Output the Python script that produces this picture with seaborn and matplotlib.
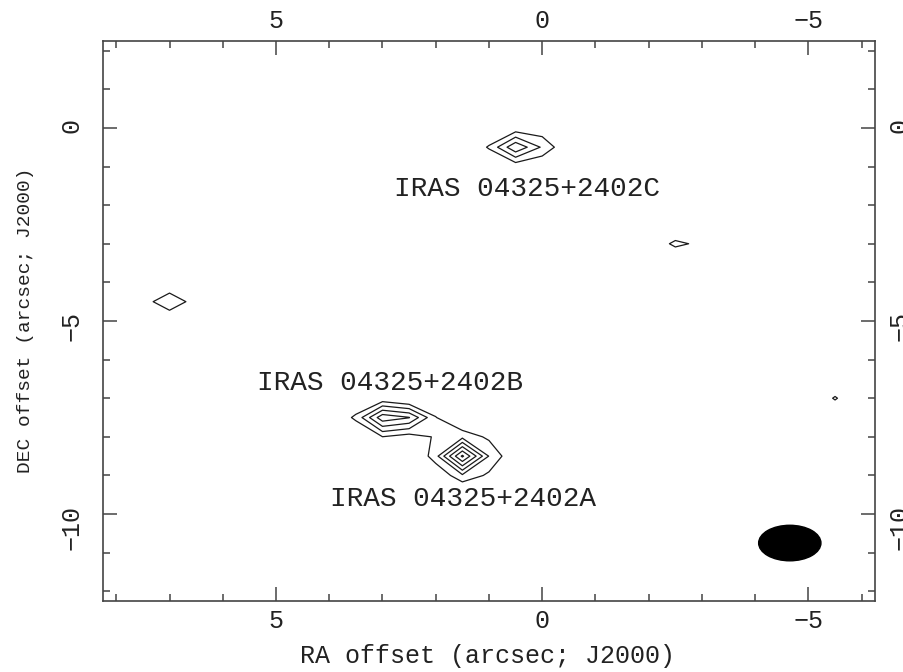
import numpy as np
import matplotlib
matplotlib.use("Agg")
import matplotlib.pyplot as plt
import seaborn as sns
from matplotlib.patches import Ellipse
from matplotlib.ticker import MultipleLocator

# map pixels (RA offset, DEC offset, intensity in contour units), 0.5" grid
pix_ra = [0.5, 1.0, 0.0, 0.5, 0.5, 0.0,                        # C
          3.0, 3.5, 2.5, 3.0, 2.5, 3.0, 2.5, 2.0, 2.0,         # B
          1.5, 1.0, 2.0, 1.5, 1.5, 1.0, 1.0, 1.5, 1.5, 2.5,    # A
          7.0, 7.5, 6.5, -2.5, -2.0, -3.0, -5.5]               # weak spots
pix_dec = [-0.5, -0.5, -0.5, 0.0, -1.0, 0.0,
           -7.5, -7.5, -7.5, -7.0, -7.0, -8.0, -8.0, -7.5, -8.0,
           -8.5, -8.5, -8.5, -8.0, -9.0, -9.0, -8.0, -7.5, -9.5, -8.5,
           -4.5, -4.5, -4.5, -3.0, -3.0, -3.0, -7.0]
pix_val = [3.9, 1.1, 1.84, 0.25, 0.25, 0.3,
           4.7, 1.2, 4.05, 0.2, -0.4, 0.98, 0.5, 1.05, 1.1,
           6.2, 1.95, 1.6, 1.7, 1.8, 0.78, 0.78, -0.4, -0.6, -0.5,
           1.8, 0.5, 0.5, 1.2, 0.3, 0.8, 1.1]
levels = [1, 2, 3, 4, 5, 6]

src_names = ["IRAS 04325+2402C", "IRAS 04325+2402B", "IRAS 04325+2402A"]
src_ra = [0.28, 2.86, 1.49]
src_dec = [-1.57, -6.6, -9.6]

beam_ra, beam_dec = -4.65, -10.75
beam_major, beam_minor = 1.17, 0.92

sns.set_theme(style="ticks")
plt.rcParams['font.family'] = ['Liberation Mono', 'DejaVu Sans Mono']
plt.rcParams['axes.edgecolor'] = '#444444'
plt.rcParams['axes.linewidth'] = 1.2

# build the image grid from the pixel lists
ra_grid = np.arange(-6.0, 8.01, 0.5)
dec_grid = np.arange(-12.0, 2.01, 0.5)
img = np.zeros((len(dec_grid), len(ra_grid)))
for r, d, v in zip(pix_ra, pix_dec, pix_val):
    i = int(round((d - dec_grid[0]) / 0.5))
    j = int(round((r - ra_grid[0]) / 0.5))
    img[i, j] = v

fig = plt.figure(figsize=(9.04, 6.72), dpi=100)
ax = fig.add_axes([0.1139, 0.1057, 0.854, 0.8333])

ax.contour(ra_grid, dec_grid, img, levels=levels, colors='#1a1a1a', linewidths=0.9)
ax.add_patch(Ellipse((beam_ra, beam_dec), beam_major, beam_minor, color='black'))

for name, x, y in zip(src_names, src_ra, src_dec):
    ax.text(x, y, name, ha='center', va='center', fontsize=20, color='#222222')

ax.set_xlim(8.25, -6.25)
ax.set_ylim(-12.25, 2.25)
ax.xaxis.set_major_locator(MultipleLocator(5))
ax.xaxis.set_minor_locator(MultipleLocator(1))
ax.yaxis.set_major_locator(MultipleLocator(5))
ax.yaxis.set_minor_locator(MultipleLocator(1))

ax.tick_params(which='both', direction='in', top=True, right=True,
               labeltop=True, labelright=False, color='#444444', labelcolor='#222222')
ax.tick_params(which='major', length=10, width=1.1)
ax.tick_params(which='minor', length=5, width=1.1)
ax.tick_params(axis='x', pad=6, labelsize=18)
ax.tick_params(axis='y', pad=14, labelsize=18, labelrotation=90)

# right-hand labels sit closer to the frame than the left ones
sec = ax.secondary_yaxis('right')
sec.yaxis.set_major_locator(MultipleLocator(5))
sec.tick_params(axis='y', length=0, pad=9, labelsize=18, labelrotation=90, labelcolor='#222222')
sec.spines['right'].set_visible(False)

ax.set_xlabel("RA offset (arcsec; J2000)", fontsize=18, color='#222222')
ax.set_ylabel("DEC offset (arcsec; J2000)", fontsize=14, color='#222222')
ax.xaxis.set_label_coords(0.4987, -0.077)
ax.yaxis.set_label_coords(-0.089, 0.502)

fig.savefig("out.png", dpi=100)
